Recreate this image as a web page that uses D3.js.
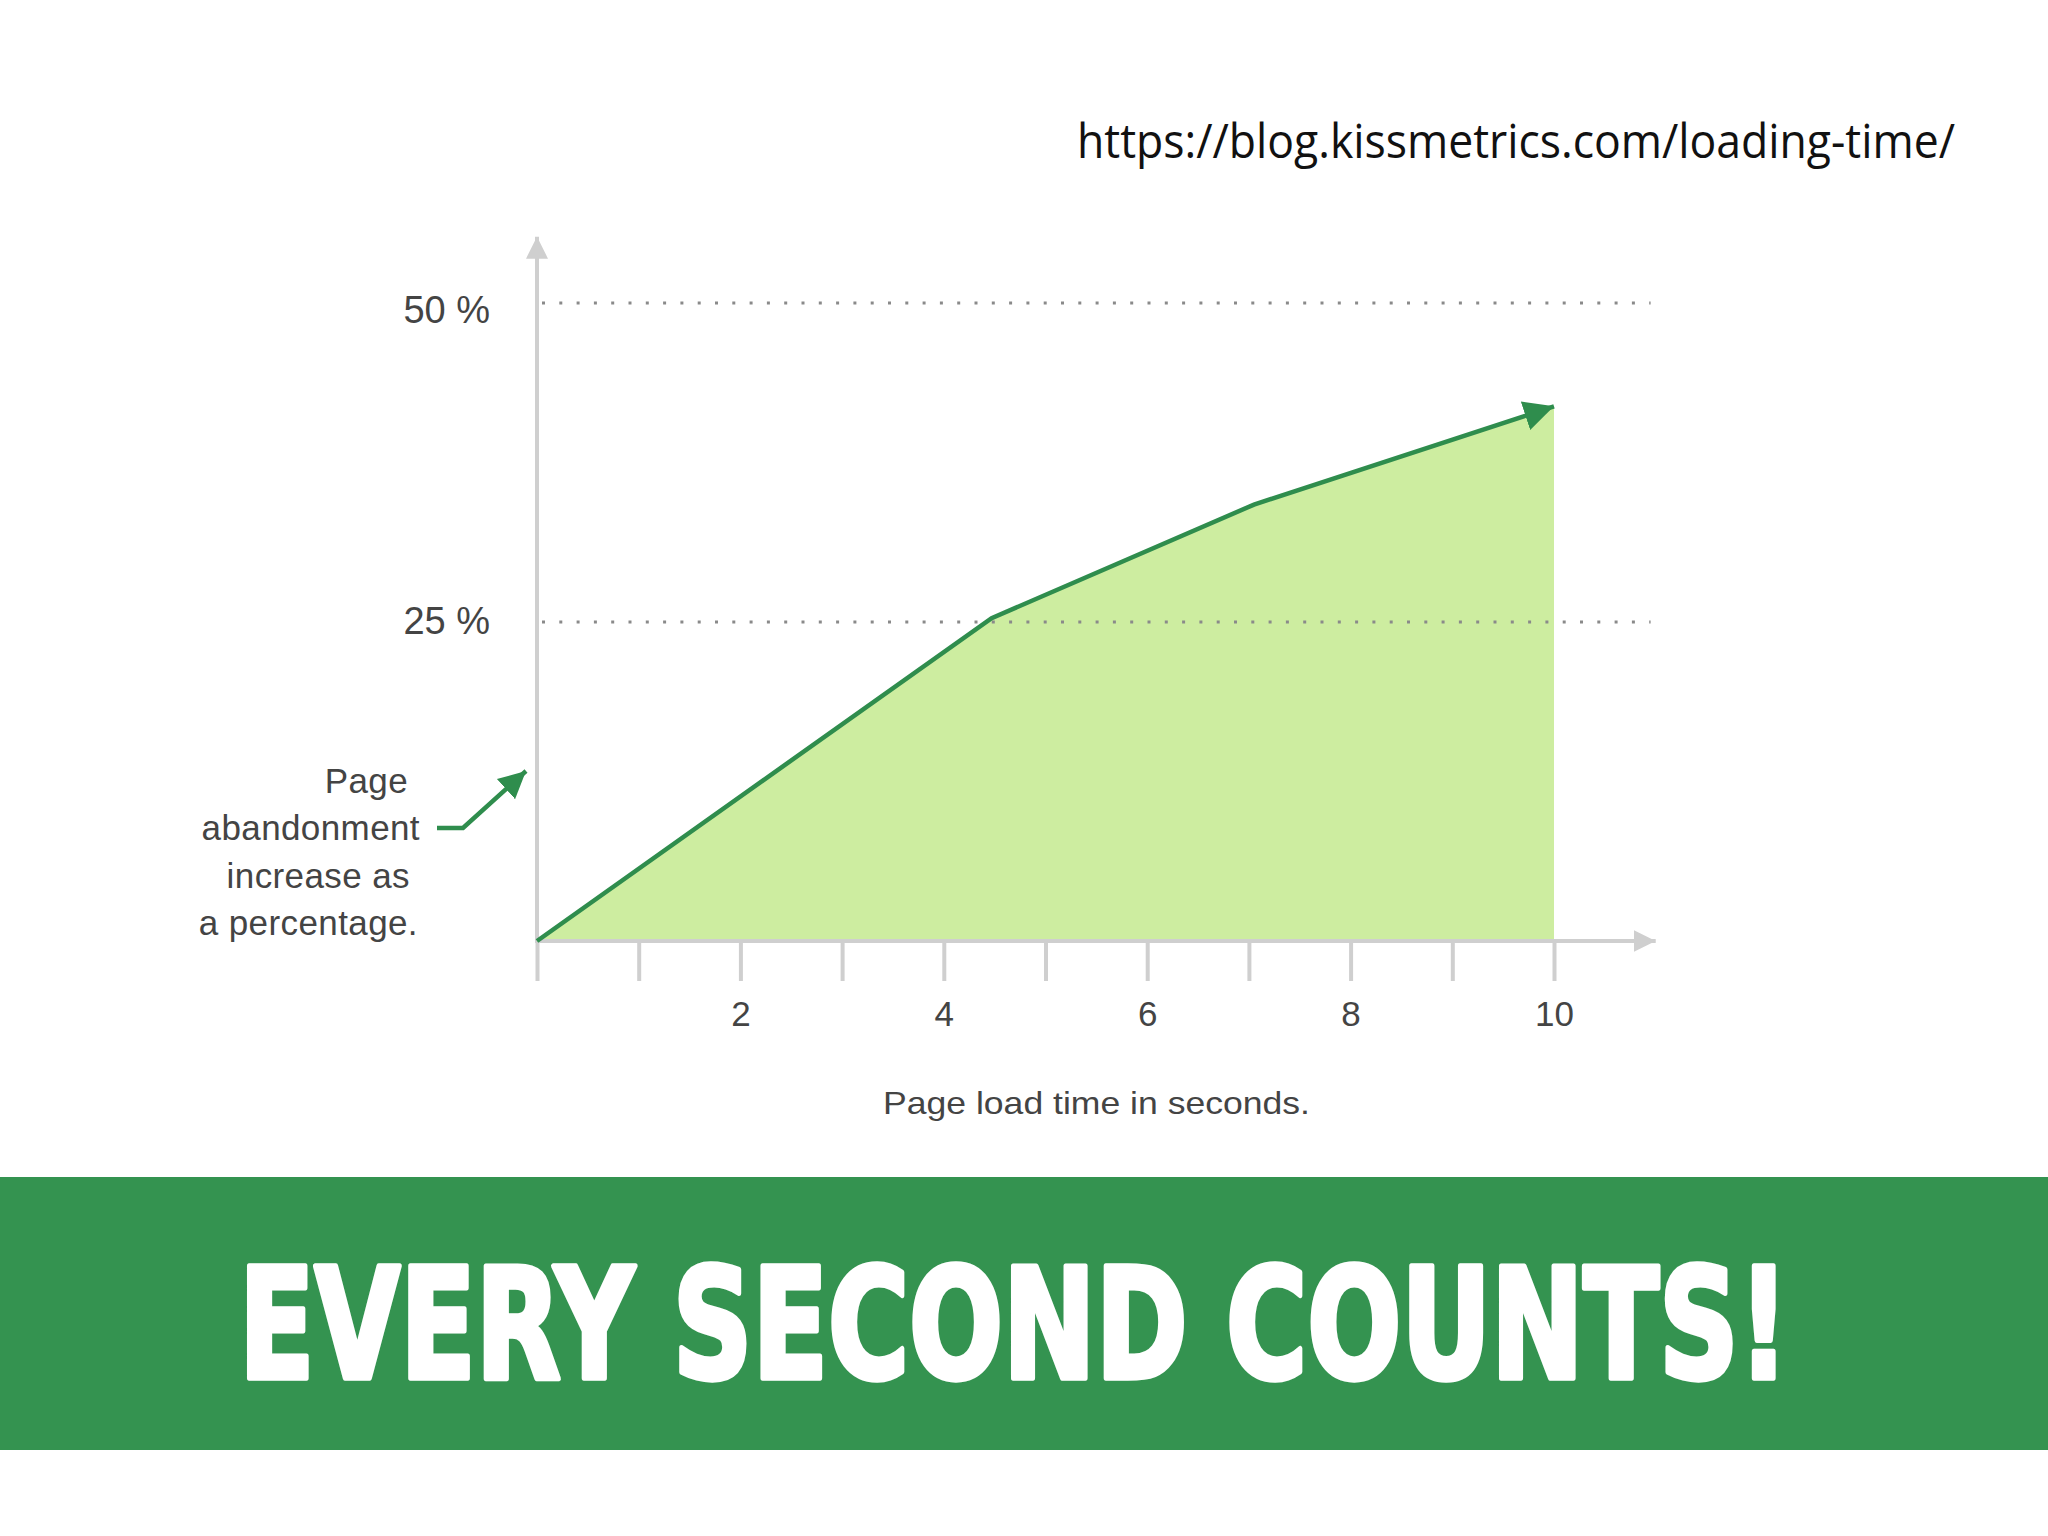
<!DOCTYPE html>
<html>
<head>
<meta charset="utf-8">
<script src="https://cdn.jsdelivr.net/npm/d3@7"></script>
<style>
  body { margin: 0; background: #ffffff; }
</style>
</head>
<body>
<div id="chart"></div>
<script>
// Data
var loadTime = [0, 4.47, 7.05, 10];          // seconds
var abandonment = [0, 25.3, 34.2, 41.9];     // percent
var xTicks = [0, 1, 2, 3, 4, 5, 6, 7, 8, 9, 10];
var xTickLabels = [2, 4, 6, 8, 10];
var yTicks = [25, 50];
var yTickLabels = ["25 %", "50 %"];
var annotationLines = ["Page", "abandonment", "increase as", "a percentage."];

var svgWidth = 2048;
var svgHeight = 1536;

var lineGreen = "#2f8d4d";
var fillGreen = "#cdeda0";
var axisGray = "#cfcfcf";
var textGray = "#444444";

var svg = d3.select("#chart")
  .append("svg")
  .attr("width", svgWidth)
  .attr("height", svgHeight);

// Scales
var xScale = d3.scaleLinear()
  .domain([0, 10])
  .range([537, 1554]);

var yScale = d3.scaleLinear()
  .domain([0, 50])
  .range([941, 303]);

// Arrow markers
var defs = svg.append("defs");

function addMarker(id, color, w, h) {
  defs.append("marker")
    .attr("id", id)
    .attr("viewBox", "0 0 10 10")
    .attr("refX", 10)
    .attr("refY", 5)
    .attr("markerUnits", "userSpaceOnUse")
    .attr("markerWidth", w)
    .attr("markerHeight", h)
    .attr("orient", "auto")
    .append("path")
    .attr("d", "M0,0 L10,5 L0,10 Z")
    .attr("fill", color);
}
addMarker("arrowGreen", lineGreen, 30, 34);
addMarker("arrowSmall", lineGreen, 27, 30);
addMarker("arrowGray", axisGray, 22, 27);

// URL caption
svg.append("text")
  .attr("x", 1077)
  .attr("y", 158)
  .attr("textLength", 878)
  .attr("lengthAdjust", "spacingAndGlyphs")
  .attr("font-family", "'Open Sans', 'Noto Sans', sans-serif")
  .attr("font-size", "48px")
  .attr("fill", "#111111")
  .text("https://blog.kissmetrics.com/loading-time/");

var points = loadTime.map(function (d, i) { return { t: d, p: abandonment[i] }; });

// Area under the curve
var area = d3.area()
  .x(d => xScale(d.t))
  .y0(yScale(0))
  .y1(d => yScale(d.p));

svg.append("path")
  .datum(points)
  .attr("d", area)
  .attr("fill", fillGreen);

// Dotted gridlines
svg.append("g").selectAll("line")
  .data(yTicks)
  .enter()
  .append("line")
  .attr("x1", xScale(0) + 5)
  .attr("x2", xScale(10.95))
  .attr("y1", d => yScale(d))
  .attr("y2", d => yScale(d))
  .attr("stroke", "#8a8a8a")
  .attr("stroke-width", 3)
  .attr("stroke-dasharray", "3,14.3");

// X axis ticks and labels
var bottomAxis = d3.axisBottom(xScale)
  .tickValues(xTicks)
  .tickSize(40)
  .tickPadding(20)
  .tickFormat(d => xTickLabels.indexOf(d) >= 0 ? d : "");

var xAxisGroup = svg.append("g")
  .attr("transform", `translate(0, ${yScale(0)})`)
  .call(bottomAxis);

xAxisGroup.select(".domain").remove();
xAxisGroup.selectAll(".tick line")
  .attr("stroke", axisGray)
  .attr("stroke-width", 4);
// drop the empty labels of unlabelled ticks
xAxisGroup.selectAll(".tick text")
  .filter(d => xTickLabels.indexOf(d) < 0)
  .remove();
xAxisGroup.selectAll(".tick text")
  .attr("font-family", "'Liberation Sans', Arial, sans-serif")
  .attr("font-size", "35px")
  .attr("fill", textGray);

// Y axis labels
var leftAxis = d3.axisLeft(yScale)
  .tickValues(yTicks)
  .tickSize(0)
  .tickPadding(47)
  .tickFormat((d, i) => yTickLabels[i]);

var yAxisGroup = svg.append("g")
  .attr("transform", `translate(${xScale(0)}, 0)`)
  .call(leftAxis);

yAxisGroup.select(".domain").remove();
yAxisGroup.selectAll(".tick text")
  .attr("dy", d => d === 50 ? "0.52em" : "0.3em")
  .attr("font-family", "'Liberation Sans', Arial, sans-serif")
  .attr("font-size", "38px")
  .attr("fill", textGray);

// Axis lines with arrow heads
svg.append("line")
  .attr("x1", xScale(0))
  .attr("x2", xScale(0))
  .attr("y1", yScale(0) + 2)
  .attr("y2", yScale(55.2))
  .attr("stroke", axisGray)
  .attr("stroke-width", 4)
  .attr("marker-end", "url(#arrowGray)");

svg.append("line")
  .attr("x1", xScale(0) - 2)
  .attr("x2", xScale(11))
  .attr("y1", yScale(0))
  .attr("y2", yScale(0))
  .attr("stroke", axisGray)
  .attr("stroke-width", 4)
  .attr("marker-end", "url(#arrowGray)");

// Data line
var line = d3.line()
  .x(d => xScale(d.t))
  .y(d => yScale(d.p));

svg.append("path")
  .datum(points)
  .attr("d", line)
  .attr("fill", "none")
  .attr("stroke", lineGreen)
  .attr("stroke-width", 4.5)
  .attr("marker-end", "url(#arrowGreen)");

// Annotation
var annotationRight = [408, 420, 410, 418];
svg.append("g").selectAll("text")
  .data(annotationLines)
  .enter()
  .append("text")
  .attr("x", (d, i) => annotationRight[i])
  .attr("y", (d, i) => 793 + i * 47.3)
  .attr("text-anchor", "end")
  .attr("font-family", "'Liberation Sans', Arial, sans-serif")
  .attr("font-size", "35px")
  .attr("letter-spacing", "0.4px")
  .attr("fill", textGray)
  .text(d => d);

svg.append("path")
  .attr("d", "M437,828 L463,828 L526,771")
  .attr("fill", "none")
  .attr("stroke", lineGreen)
  .attr("stroke-width", 4.5)
  .attr("marker-end", "url(#arrowSmall)");

// X axis title
svg.append("text")
  .attr("x", 883)
  .attr("y", 1114)
  .attr("textLength", 427)
  .attr("lengthAdjust", "spacingAndGlyphs")
  .attr("font-family", "'Liberation Sans', Arial, sans-serif")
  .attr("font-size", "32px")
  .attr("fill", textGray)
  .text("Page load time in seconds.");

// Banner
svg.append("rect")
  .attr("x", 0)
  .attr("y", 1177)
  .attr("width", svgWidth)
  .attr("height", 273)
  .attr("fill", "#349350");

// tall condensed headline: smaller font stretched vertically
svg.append("g")
  .attr("transform", "translate(1014, 1378) scale(1, 1.34)")
  .append("text")
  .attr("x", 0)
  .attr("y", 0)
  .attr("text-anchor", "middle")
  .attr("textLength", 1550)
  .attr("lengthAdjust", "spacingAndGlyphs")
  .attr("font-family", "'Liberation Sans Narrow', 'DejaVu Sans Condensed', 'Liberation Sans', sans-serif")
  .attr("font-weight", "700")
  .attr("font-size", "114px")
  .attr("fill", "#ffffff")
  .attr("stroke", "#ffffff")
  .attr("stroke-width", 4)
  .attr("stroke-linejoin", "round")
  .text("EVERY SECOND COUNTS!");
</script>
</body>
</html>
